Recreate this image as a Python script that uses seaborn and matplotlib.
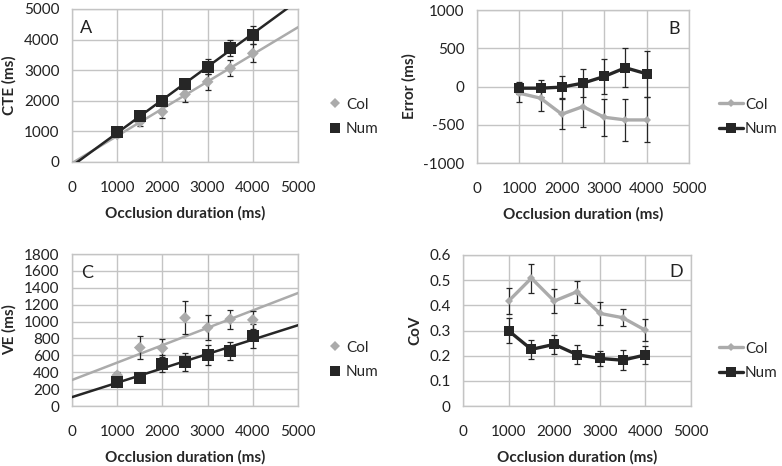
import numpy as np
import pandas as pd
import seaborn as sns
import matplotlib.pyplot as plt
from matplotlib.lines import Line2D

# occlusion durations (ms)
durations = [1000, 1500, 2000, 2500, 3000, 3500, 4000]
groups = ["Col", "Num"]

# A: constant time estimate
cte_col = [900, 1310, 1640, 2210, 2620, 3060, 3550]
cte_col_err = [80, 140, 190, 250, 270, 260, 290]
cte_num = [980, 1490, 2000, 2540, 3110, 3730, 4160]
cte_num_err = [60, 80, 100, 170, 250, 250, 300]

# B: error
err_col = [-87, -153, -362, -262, -402, -437, -437]
err_col_err = [110, 165, 200, 265, 245, 280, 295]
err_num = [-22, -22, -8, 44, 131, 245, 166]
err_num_err = [80, 110, 140, 185, 230, 258, 300]

# C: variable error
ve_col = [364, 692, 684, 1044, 928, 1028, 1020]
ve_col_err = [40, 132, 105, 196, 146, 112, 105]
ve_num = [280, 332, 500, 524, 600, 652, 828]
ve_num_err = [30, 30, 100, 106, 118, 110, 145]

# D: coefficient of variation
cov_col = [0.417, 0.508, 0.417, 0.454, 0.368, 0.351, 0.301]
cov_col_err = [0.05, 0.058, 0.046, 0.043, 0.046, 0.033, 0.044]
cov_num = [0.299, 0.225, 0.245, 0.204, 0.189, 0.182, 0.203]
cov_num_err = [0.05, 0.038, 0.039, 0.037, 0.031, 0.039, 0.035]

x_ticks = [0, 1000, 2000, 3000, 4000, 5000]
a_ticks = [0, 1000, 2000, 3000, 4000, 5000]
b_ticks = [-1000, -500, 0, 500, 1000]
c_ticks = [0, 200, 400, 600, 800, 1000, 1200, 1400, 1600, 1800]
d_ticks = [0, 0.1, 0.2, 0.3, 0.4, 0.5, 0.6]
d_labels = ["0", "0.1", "0.2", "0.3", "0.4", "0.5", "0.6"]

LIGHT = "#ababab"
DARK = "#262626"
GRID = "#c4c4c4"
FS = 11

sns.set_style("white")
plt.rcParams['font.family'] = ['Lato', 'DejaVu Sans']
plt.rcParams['font.size'] = FS
plt.rcParams['axes.unicode_minus'] = False

fig = plt.figure(figsize=(7.82, 4.66), dpi=100)
W, H = 782, 466


def make_ax(l, r, t, b):
    return fig.add_axes([l / W, 1 - b / H, (r - l) / W, (b - t) / H])


def style(ax, yticks, ylim, ylabel, letter, letter_pos, ylabels=None):
    ax.set_xlim(0, 5000)
    ax.set_ylim(*ylim)
    ax.set_xticks(x_ticks)
    ax.set_yticks(yticks)
    if ylabels is not None:
        ax.set_yticklabels(ylabels)
    ax.grid(True, color=GRID, linewidth=1)
    ax.set_axisbelow(True)
    for s in ax.spines.values():
        s.set_color(GRID)
        s.set_linewidth(1)
    ax.tick_params(axis="both", direction="out", length=4, color=GRID, width=1,
                   labelsize=FS, labelcolor="#222222")
    ax.tick_params(axis="y", pad=5)
    ax.tick_params(axis="x", pad=10)
    ax.set_xlabel("Occlusion duration (ms)", fontweight="bold", fontsize=FS, labelpad=8)
    ax.set_ylabel(ylabel, fontweight="bold", fontsize=FS, labelpad=5)
    ax.text(letter_pos[0], letter_pos[1], letter, transform=ax.transAxes,
            fontsize=13, ha="center", va="center", color="#222222")


def errbars(ax, y, e):
    ax.errorbar(durations, y, yerr=e, fmt="none", ecolor=DARK, elinewidth=0.9,
                capsize=2.5, capthick=0.9, zorder=4)


def trend_panel(ax, col, col_e, num, num_e):
    df = pd.DataFrame({"dur": durations * 2, "val": col + num,
                       "grp": ["Col"] * 7 + ["Num"] * 7})
    for g, c in zip(groups, [LIGHT, DARK]):
        sns.regplot(data=df[df.grp == g], x="dur", y="val", ax=ax, scatter=False,
                    ci=None, truncate=False, color=c, line_kws={"lw": 1.8, "zorder": 3})
    errbars(ax, col, col_e)
    errbars(ax, num, num_e)
    sns.scatterplot(data=df, x="dur", y="val", hue="grp", style="grp",
                    markers={"Col": "D", "Num": "s"}, palette={"Col": LIGHT, "Num": DARK},
                    size="grp", sizes={"Col": 36, "Num": 75}, linewidth=0,
                    ax=ax, legend=False, zorder=5)
    ax.set_xlabel("")
    ax.set_ylabel("")


def line_panel(ax, col, col_e, num, num_e):
    df = pd.DataFrame({"dur": durations * 2, "val": col + num,
                       "grp": ["Col"] * 7 + ["Num"] * 7})
    errbars(ax, col, col_e)
    errbars(ax, num, num_e)
    sns.lineplot(data=df, x="dur", y="val", hue="grp", style="grp",
                 markers={"Col": "D", "Num": "s"}, dashes=False,
                 palette={"Col": LIGHT, "Num": DARK}, lw=2.4, markersize=6,
                 markeredgewidth=0, ax=ax, legend=False, zorder=5)
    for ln, ms in zip(ax.lines[-2:], [4.5, 6.5]):
        ln.set_markersize(ms)
    ax.set_xlabel("")
    ax.set_ylabel("")


def add_legend(ax, x, y, with_line):
    if with_line:
        handles = [Line2D([], [], color=LIGHT, lw=2.4, marker="D", markersize=4.5, markeredgewidth=0),
                   Line2D([], [], color=DARK, lw=2.4, marker="s", markersize=6.5, markeredgewidth=0)]
        hl, tp = 1.6, 0.1
    else:
        handles = [Line2D([], [], color=LIGHT, lw=0, marker="D", markersize=5.5, markeredgewidth=0),
                   Line2D([], [], color=DARK, lw=0, marker="s", markersize=7.5, markeredgewidth=0)]
        hl, tp = 0.7, 0.35
    fig.legend(handles, groups, loc="center left", bbox_to_anchor=(x / W, 1 - y / H),
               frameon=False, fontsize=FS, handlelength=hl, handletextpad=tp,
               labelspacing=0.7, borderpad=0, borderaxespad=0)


ax_a = make_ax(72, 298, 9, 162)
ax_b = make_ax(477, 689, 10, 163)
ax_c = make_ax(72, 298, 254, 406)
ax_d = make_ax(463, 691, 255, 406)

for ax in [ax_a, ax_c]:
    ax.set_xlim(0, 5000)
ax_a.set_ylim(0, 5000)
ax_c.set_ylim(0, 1800)

trend_panel(ax_a, cte_col, cte_col_err, cte_num, cte_num_err)
trend_panel(ax_c, ve_col, ve_col_err, ve_num, ve_num_err)
line_panel(ax_b, err_col, err_col_err, err_num, err_num_err)
line_panel(ax_d, cov_col, cov_col_err, cov_num, cov_num_err)

style(ax_a, a_ticks, (0, 5000), "CTE (ms)", "A", (0.06, 0.875))
style(ax_b, b_ticks, (-1000, 1000), "Error (ms)", "B", (0.93, 0.875))
style(ax_c, c_ticks, (0, 1800), "VE (ms)", "C", (0.065, 0.875))
style(ax_d, d_ticks, (0, 0.6), "CoV", "D", (0.935, 0.89), d_labels)

add_legend(ax_a, 330, 117, False)
add_legend(ax_c, 330, 360, False)
add_legend(ax_b, 719, 117, True)
add_legend(ax_d, 719, 361, True)

fig.savefig("out.png", dpi=100)
